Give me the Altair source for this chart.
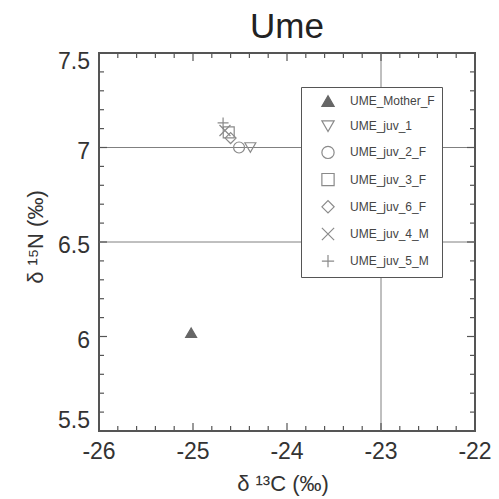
import altair as alt
import pandas as pd

# ---- data ----
names = ["UME_Mother_F", "UME_juv_1", "UME_juv_2_F", "UME_juv_3_F",
         "UME_juv_6_F", "UME_juv_4_M", "UME_juv_5_M"]
d13C = [-25.02, -24.39, -24.51, -24.62, -24.60, -24.66, -24.68]
d15N = [6.02, 7.00, 7.00, 7.08, 7.05, 7.09, 7.13]

shapes = ["triangle-up", "triangle-down", "circle", "square", "diamond",
          "M-1,-1L1,1M1,-1L-1,1", "M-1,0L1,0M0,-1L0,1"]
fills = ["#666666", "transparent", "transparent", "transparent",
         "transparent", "transparent", "transparent"]

x_ticks = [-26, -25, -24, -23, -22]
x_labels = ["-26", "-25", "-24", "-23", "-22"]
y_ticks = [5.5, 6, 6.5, 7, 7.5]
y_labels = ["5.5", "6", "6.5", "7", "7.5"]
x_grid = [-23]
y_grid = [6.5, 7]
x_minor = [round(-26 + 0.2 * i, 1) for i in range(21)]
y_minor = [round(5.5 + 0.1 * i, 1) for i in range(21)]

W, H = 376, 378
FONT = "Liberation Sans"
XD = [-26, -22]
YD = [5.5, 7.5]
XT = "δ ¹³C (‰)"
YT = "δ ¹⁵N (‰)"
TXT = "#333333"

df = pd.DataFrame({"name": names, "x": d13C, "y": d15N})
xs = alt.Scale(domain=XD, nice=False, zero=False)
ys = alt.Scale(domain=YD, nice=False, zero=False)

points = alt.Chart(df).mark_point(filled=True, size=120, strokeWidth=1.2, opacity=1).encode(
    x=alt.X("x:Q", scale=xs, axis=None),
    y=alt.Y("y:Q", scale=ys, axis=None),
    shape=alt.Shape("name:N", scale=alt.Scale(domain=names, range=shapes), title=None),
    fill=alt.Fill("name:N", scale=alt.Scale(domain=names, range=fills), title=None),
    stroke=alt.Stroke("name:N", scale=alt.Scale(domain=names, range=["#666666"] + ["#8a8a8a"] * 6),
                      title=None),
)

gx = alt.Chart(pd.DataFrame({"v": x_grid})).mark_rule(color="#808080", strokeWidth=1).encode(
    x=alt.X("v:Q", scale=xs, axis=None))
gy = alt.Chart(pd.DataFrame({"v": y_grid})).mark_rule(color="#808080", strokeWidth=1).encode(
    y=alt.Y("v:Q", scale=ys, axis=None))

# inward tick segments, lengths converted from pixels to data units
px_x = (XD[1] - XD[0]) / W
px_y = (YD[1] - YD[0]) / H
rows = []
for v in x_minor:
    ln = 8 if abs(v - round(v)) < 1e-6 else 5
    rows.append({"tx": v, "tx2": v, "ty": YD[0], "ty2": YD[0] + ln * px_y})
    rows.append({"tx": v, "tx2": v, "ty": YD[1], "ty2": YD[1] - ln * px_y})
for v in y_minor:
    ln = 8 if abs(v * 2 - round(v * 2)) < 1e-6 else 5
    rows.append({"ty": v, "ty2": v, "tx": XD[0], "tx2": XD[0] + ln * px_x})
    rows.append({"ty": v, "ty2": v, "tx": XD[1], "tx2": XD[1] - ln * px_x})
ticks_df = pd.DataFrame(rows)

ticks = alt.Chart(ticks_df).mark_rule(color="#555555", strokeWidth=1.2).encode(
    x=alt.X("tx:Q", scale=xs, axis=None), x2="tx2:Q",
    y=alt.Y("ty:Q", scale=ys, axis=None), y2="ty2:Q")

# axis labels as text drawn through the scales
xl = alt.Chart(pd.DataFrame({"v": x_ticks, "t": x_labels})).mark_text(
    font=FONT, fontSize=23, color=TXT, align="center", baseline="top").encode(
    x=alt.X("v:Q", scale=xs, axis=None), y=alt.value(H + 10), text="t:N")

ydf = pd.DataFrame({"v": y_ticks, "t": y_labels})
yl_mid = alt.Chart(ydf.iloc[1:-1]).mark_text(
    font=FONT, fontSize=23, color=TXT, align="right", baseline="middle", dy=4).encode(
    y=alt.Y("v:Q", scale=ys, axis=None), x=alt.value(-9), text="t:N")
yl_top = alt.Chart(ydf.iloc[-1:]).mark_text(
    font=FONT, fontSize=23, color=TXT, align="right", baseline="top", dy=-2).encode(
    y=alt.Y("v:Q", scale=ys, axis=None), x=alt.value(-9), text="t:N")
yl_bot = alt.Chart(ydf.iloc[:1]).mark_text(
    font=FONT, fontSize=23, color=TXT, align="right", baseline="bottom", dy=2).encode(
    y=alt.Y("v:Q", scale=ys, axis=None), x=alt.value(-9), text="t:N")

xtitle = alt.Chart(pd.DataFrame({"t": [XT]})).mark_text(
    font=FONT, fontSize=22, color=TXT, align="center", baseline="alphabetic").encode(
    x=alt.value(W / 2 - 4), y=alt.value(H + 60), text="t:N")
ytitle = alt.Chart(pd.DataFrame({"t": [YT]})).mark_text(
    font=FONT, fontSize=22, color=TXT, align="center", baseline="middle", angle=270).encode(
    x=alt.value(-63), y=alt.value(H / 2 - 5), text="t:N")

chart = alt.layer(gx, gy, xl, yl_mid, yl_top, yl_bot, xtitle, ytitle, points, ticks).properties(
    width=W, height=H,
    title=alt.Title("Ume", fontSize=35, font=FONT, fontWeight="normal", color="#222",
                    anchor="middle", offset=6),
    padding={"left": 99, "top": 53, "right": 24, "bottom": 68},
    autosize=alt.AutoSizeParams(type="none"),
).configure_view(
    stroke="#555", strokeWidth=2
).configure_legend(
    orient="none", legendX=202, legendY=34,
    strokeColor="#555", fillColor="white", padding=7,
    labelFont=FONT, labelFontSize=12, labelColor="#444",
    symbolSize=150, symbolStrokeWidth=1.2, rowPadding=9.2, labelOffset=15,
    symbolOffset=13, symbolType="circle",
)

chart.save("out.html", embed_options={"renderer": "svg", "actions": False})
